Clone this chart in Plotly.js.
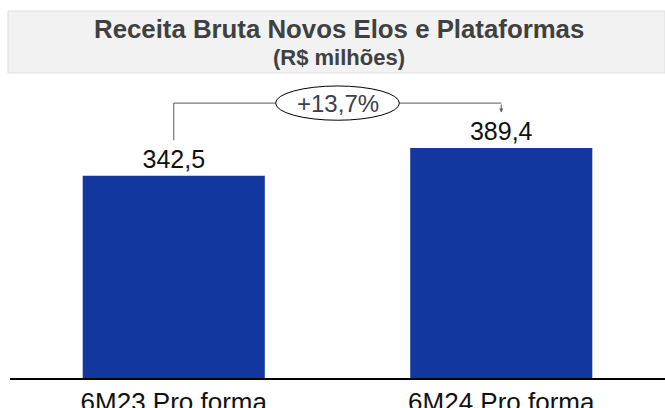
<!DOCTYPE html>
<html>
<head>
<meta charset="utf-8">
<script src="https://cdn.plot.ly/plotly-3.0.1.min.js"></script>
<style>
  html, body { margin: 0; padding: 0; background: #ffffff; }
  #chart { width: 665px; height: 408px; }
</style>
</head>
<body>
<div id="chart"></div>
<script>
// ---- data ----
const categories = ["6M23 Pro forma", "6M24 Pro forma"];
const values = [342.5, 389.4];
const chartTitle = "Receita Bruta Novos Elos e Plataformas";
const chartSubtitle = "(R$ milhões)";

// ---- derived ----
const growth = (values[1] / values[0] - 1) * 100;
const growthLabel = "+" + growth.toFixed(1).replace(".", ",") + "%";
const vmax = Math.max(...values);
const yMax = values[0] * 298 / 202.3;
const level = vmax + 76;       // height of connector line
const gap = 60;                // gap above value labels

const FONT = "Liberation Sans, Arial, sans-serif";

const trace = {
  type: "bar",
  x: [0, 1],
  y: values,
  width: 0.556,
  marker: { color: "#12389f", line: { width: 0 } },
  texttemplate: "%{y:.1f}",
  textposition: "outside",
  cliponaxis: false,
  textfont: { family: FONT, size: 25, color: "#111111" },
  hoverinfo: "skip"
};

const shapes = [
  // title box
  { type: "rect", xref: "paper", yref: "paper", x0: -0.003, x1: 1.0, y0: 1.0235, y1: 1.2315,
    fillcolor: "#f2f2f2", line: { color: "#dedede", width: 1 }, layer: "below" },
  // connector: vertical from first bar label
  { type: "line", xref: "x", yref: "y", x0: 0, x1: 0, y0: values[0] + gap, y1: level,
    line: { color: "#595959", width: 1 } },
  // horizontal
  { type: "line", xref: "x", yref: "y", x0: 0, x1: 1, y0: level, y1: level,
    line: { color: "#595959", width: 1 } },
  // ellipse
  { type: "circle", xref: "x", yref: "y", x0: 0.5 - 0.189, x1: 0.5 + 0.189,
    y0: level - 29, y1: level + 29, fillcolor: "#ffffff", line: { color: "#000000", width: 1 } }
];

const annotations = [
  { xref: "paper", yref: "paper", x: 0.503, y: 1.170, xanchor: "center", yanchor: "middle",
    text: "<b>" + chartTitle + "</b>", showarrow: false,
    font: { family: FONT, size: 25.8, color: "#404040" } },
  { xref: "paper", yref: "paper", x: 0.503, y: 1.0748, xanchor: "center", yanchor: "middle",
    text: "<b>" + chartSubtitle + "</b>", showarrow: false,
    font: { family: FONT, size: 22, color: "#404040" } },
  { xref: "x", yref: "y", x: 0.5, y: level, xanchor: "center", yanchor: "middle",
    text: growthLabel, showarrow: false,
    font: { family: FONT, size: 24, color: "#3b404c" } },
  // arrow down to second bar label
  { xref: "x", yref: "y", x: 1, y: values[1] + gap, axref: "x", ayref: "y", ax: 1, ay: level,
    text: "", showarrow: true, arrowhead: 2, arrowsize: 0.8, arrowwidth: 1, arrowcolor: "#595959",
    standoff: 0, startstandoff: 0 }
];

const layout = {
  width: 665, height: 408,
  margin: { l: 10, r: 0, t: 80, b: 30, pad: 0 },
  paper_bgcolor: "#ffffff", plot_bgcolor: "#ffffff",
  separators: ",.",
  showlegend: false,
  hovermode: false,
  xaxis: {
    range: [-0.5, 1.5],
    tickmode: "array", tickvals: [0, 1], ticktext: categories,
    showline: true, linecolor: "#000000", linewidth: 1.5,
    showgrid: false, zeroline: false, ticks: "",
    tickfont: { family: FONT, size: 26, color: "#111111" },
    fixedrange: true
  },
  yaxis: {
    range: [0, yMax], visible: false, showgrid: false, zeroline: false, fixedrange: true
  },
  shapes: shapes,
  annotations: annotations
};

Plotly.newPlot("chart", [trace], layout, { displayModeBar: false, staticPlot: true });
</script>
</body>
</html>
